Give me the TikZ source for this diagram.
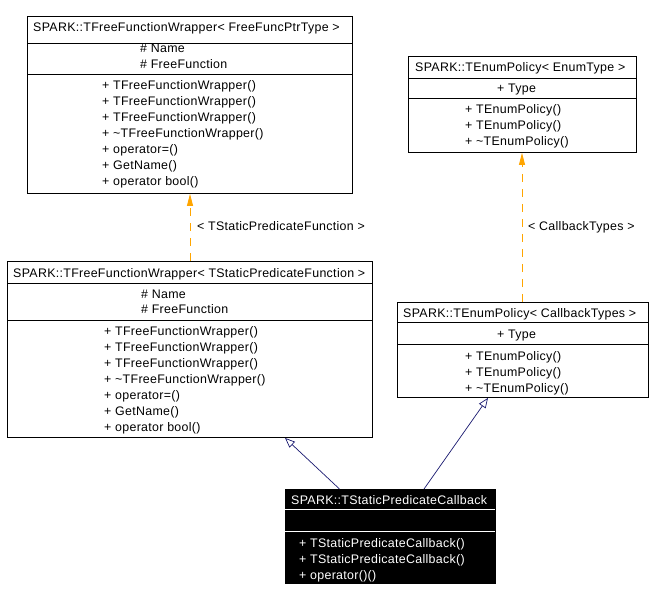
\documentclass[tikz,border=0pt]{standalone}
\usepackage{fontspec}
\setmainfont{Liberation Sans}[LetterSpace=2.5]
\usetikzlibrary{arrows.meta}
\definecolor{edgeblue}{HTML}{191970}
\definecolor{tmplorange}{HTML}{FFA500}
\tikzset{
  box/.style={draw=black, line width=0.9pt, fill=white, inner sep=0pt, anchor=north west},
  darkbox/.style={draw=black, line width=0.9pt, fill=black, inner sep=0pt, anchor=north west},
  sep/.style={draw=black, line width=0.9pt},
  wsep/.style={draw=white, line width=0.9pt},
  txt/.style={inner sep=0pt, anchor=base west, font=\fontsize{12.4}{16}\selectfont},
  wtxt/.style={txt, text=white},
  inherit/.style={draw=edgeblue, line width=0.7pt, -{Triangle[open, length=10pt, width=8pt]}},
  tmpl/.style={draw=tmplorange, line width=0.8pt, dash pattern=on 8pt off 7pt, -{Triangle[length=12pt, width=6pt, fill=tmplorange]}}
}
\begin{document}
\begin{tikzpicture}[x=1pt, y=-1pt]
\useasboundingbox[fill=white] (0,0) rectangle (652,601);

% ---- top-left: TFreeFunctionWrapper< FreeFuncPtrType >
\node[box, minimum width=325pt, minimum height=177pt] (tl) at (27,16) {};
\draw[sep] (27,43) -- (352,43);
\draw[sep] (27,74) -- (352,74);
\node[txt] (tl-t) at (33,32) {SPARK::TFreeFunctionWrapper< FreeFuncPtrType >};
\node[txt] (tl-a1) at (140,53) {\# Name};
\node[txt] (tl-a2) at (140,69) {\# FreeFunction};
\node[txt] (tl-m1) at (102,90) {+ TFreeFunctionWrapper()};
\node[txt] (tl-m2) at (102,106) {+ TFreeFunctionWrapper()};
\node[txt] (tl-m3) at (102,122) {+ TFreeFunctionWrapper()};
\node[txt] (tl-m4) at (102,138) {+ \textasciitilde TFreeFunctionWrapper()};
\node[txt] (tl-m5) at (102,154) {+ operator=()};
\node[txt] (tl-m6) at (102,170) {+ GetName()};
\node[txt] (tl-m7) at (102,186) {+ operator bool()};

% ---- top-right: TEnumPolicy< EnumType >
\node[box, minimum width=228pt, minimum height=96pt] (tr) at (408,56) {};
\draw[sep] (408,78) -- (636,78);
\draw[sep] (408,98) -- (636,98);
\node[txt] (tr-t) at (415,72) {SPARK::TEnumPolicy< EnumType >};
\node[txt] (tr-a1) at (497,93) {+ Type};
\node[txt] (tr-m1) at (465,114) {+ TEnumPolicy()};
\node[txt] (tr-m2) at (465,130) {+ TEnumPolicy()};
\node[txt] (tr-m3) at (465,146) {+ \textasciitilde TEnumPolicy()};

% ---- middle-left: TFreeFunctionWrapper< TStaticPredicateFunction >
\node[box, minimum width=365pt, minimum height=176pt] (ml) at (7,261) {};
\draw[sep] (7,283) -- (372,283);
\draw[sep] (7,320) -- (372,320);
\node[txt] (ml-t) at (13,277) {SPARK::TFreeFunctionWrapper< TStaticPredicateFunction >};
\node[txt] (ml-a1) at (141,298) {\# Name};
\node[txt] (ml-a2) at (141,313) {\# FreeFunction};
\node[txt] (ml-m1) at (104,335) {+ TFreeFunctionWrapper()};
\node[txt] (ml-m2) at (104,351) {+ TFreeFunctionWrapper()};
\node[txt] (ml-m3) at (104,367) {+ TFreeFunctionWrapper()};
\node[txt] (ml-m4) at (104,383) {+ \textasciitilde TFreeFunctionWrapper()};
\node[txt] (ml-m5) at (104,399) {+ operator=()};
\node[txt] (ml-m6) at (104,415) {+ GetName()};
\node[txt] (ml-m7) at (104,431) {+ operator bool()};

% ---- middle-right: TEnumPolicy< CallbackTypes >
\node[box, minimum width=251pt, minimum height=95pt] (mr) at (397,302) {};
\draw[sep] (397,322) -- (648,322);
\draw[sep] (397,344) -- (648,344);
\node[txt] (mr-t) at (403,317) {SPARK::TEnumPolicy< CallbackTypes >};
\node[txt] (mr-a1) at (497,338) {+ Type};
\node[txt] (mr-m1) at (465,360) {+ TEnumPolicy()};
\node[txt] (mr-m2) at (465,376) {+ TEnumPolicy()};
\node[txt] (mr-m3) at (465,392) {+ \textasciitilde TEnumPolicy()};

% ---- bottom: TStaticPredicateCallback
\node[darkbox, minimum width=210pt, minimum height=94pt] (b) at (285,489) {};
\draw[wsep] (285,509) -- (495,509);
\draw[wsep] (285,531) -- (495,531);
\node[wtxt] (b-t) at (291,504) {SPARK::TStaticPredicateCallback};
\node[wtxt] (b-m1) at (299,547) {+ TStaticPredicateCallback()};
\node[wtxt] (b-m2) at (299,563) {+ TStaticPredicateCallback()};
\node[wtxt] (b-m3) at (299,579) {+ operator()()};

% ---- template instantiation edges
\draw[tmpl] ([xshift=183pt]ml.north west) -- ([xshift=163pt]tl.south west);
\node[txt] (lbl1) at (197,231) {< TStaticPredicateFunction >};
\draw[tmpl] ([xshift=125pt]mr.north west) -- ([xshift=114pt]tr.south west);
\node[txt] (lbl2) at (528,231) {< CallbackTypes >};

% ---- inheritance edges
\draw[inherit] ([xshift=54.5pt]b.north west) -- ([xshift=278pt]ml.south west);
\draw[inherit] ([xshift=139pt]b.north west) -- ([xshift=91pt]mr.south west);
\end{tikzpicture}
\end{document}
